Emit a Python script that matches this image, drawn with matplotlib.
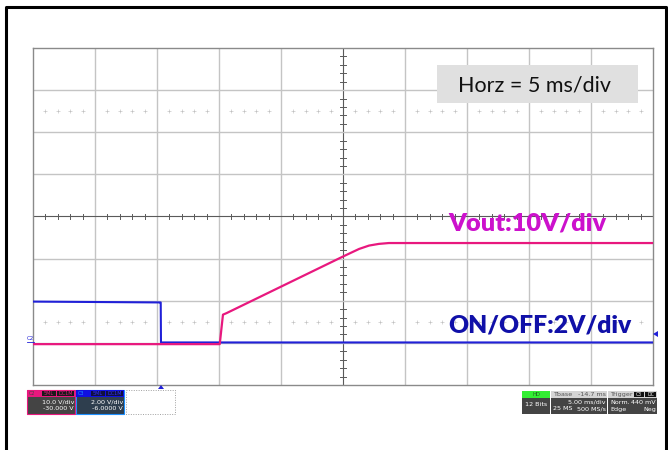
import matplotlib
matplotlib.use("Agg")
import matplotlib.pyplot as plt
from matplotlib.patches import Rectangle, Polygon
import numpy as np

# scope settings
time_per_div = 5.0          # ms/div
t_left = -10.3              # ms at left edge of screen (Tbase -14.7 ms)
vout_scale, vout_offset = 10.0, -30.0     # V/div, V
onoff_scale, onoff_offset = 2.0, -6.0     # V/div, V

# Vout trace (time in ms, volts)
vout_t = [-10.3, 4.76, 5.02, 5.30, 14.7, 16.0, 16.8, 17.6, 18.4, 39.7]
vout_v = [-0.3, -0.3, 6.7, 7.05, 20.5, 22.3, 23.1, 23.5, 23.7, 23.7]

# ON/OFF trace
onoff_t = [-10.3, -0.05, 0.0, 0.02, 39.7]
onoff_v = [1.96, 1.92, 1.92, 0.02, 0.02]

W, H = 668, 450
fig = plt.figure(figsize=(W / 100, H / 100), dpi=100)

# pixel helper for decorations
def px(x0, y0, x1, y1):
    return [x0 / W, 1 - y1 / H, (x1 - x0) / W, (y1 - y0) / H]

# background overlay (frame)
bg = fig.add_axes([0, 0, 1, 1], zorder=0)
bg.set_xlim(0, W)
bg.set_ylim(H, 0)
bg.axis("off")
bg.plot([6, 6, 666, 666], [452, 7, 7, 452], color="black", lw=2.2, solid_capstyle="butt")

# scope screen
ax = fig.add_axes(px(33, 48, 653, 385), zorder=1)
ax.set_xlim(t_left, t_left + 10 * time_per_div)
ax.set_ylim(-4, 4)
ax.set_xticks([])
ax.set_yticks([])
for s in ax.spines.values():
    s.set_color("#8a8a8a")
    s.set_linewidth(1.0)

grid_c = "#c4c4c4"
for i in range(1, 10):
    x = t_left + i * time_per_div
    ax.axvline(x, color="#5a5a5a" if i == 5 else grid_c, lw=0.8 if i == 5 else 1.0, zorder=1)
for j in range(-3, 4):
    ax.axhline(j, color="#5a5a5a" if j == 0 else grid_c, lw=0.8 if j == 0 else 1.0, zorder=1)

# minor ticks on center lines
t_center = t_left + 5 * time_per_div
for k in range(1, 50):
    if k % 5:
        x = t_left + k * time_per_div / 5
        ax.plot([x, x], [-0.06, 0.06], color="#5a5a5a", lw=0.7, zorder=1)
for k in range(-20, 20):
    if k % 5:
        y = k / 5
        ax.plot([t_center - 0.22, t_center + 0.22], [y, y], color="#5a5a5a", lw=0.7, zorder=1)

# dotted cursor rows
dots = [t_left + k * time_per_div / 5 for k in range(1, 50) if k % 5]
for yy in (2.5, -2.5):
    ax.plot(dots, [yy] * len(dots), ls="none", marker="+", ms=2.2, mew=0.45, color="#c0c0c0", zorder=1)

# traces
vout_div = (np.array(vout_v) + vout_offset) / vout_scale
onoff_div = (np.array(onoff_v) + onoff_offset) / onoff_scale
ax.plot(onoff_t, onoff_div, color="#2020d8", lw=1.5, zorder=3)
ax.plot(vout_t, vout_div, color="#e8187e", lw=1.6, zorder=4)

# overlay for annotations / info boxes
ov = fig.add_axes([0, 0, 1, 1], zorder=5)
ov.set_xlim(0, W)
ov.set_ylim(H, 0)
ov.axis("off")
ov.patch.set_alpha(0)

ov.add_patch(Rectangle((437, 65), 201, 38, fc="#e0e0e0", ec="none"))
ov.text(458, 85, "Horz = 5 ms/div", fontsize=15.5, family="Lato", va="center", ha="left", color="#111111")
ov.text(527, 223, "Vout:10V/div", fontsize=18.3, family="Lato", weight="heavy", va="center", ha="center", color="#cc11cc")
ov.text(540, 325, "ON/OFF:2V/div", fontsize=17.7, family="Lato", weight="heavy", va="center", ha="center", color="#1010a8")

# channel marker and trigger markers
ov.text(27, 341, "C2", fontsize=4, color="#2020d8", va="bottom", ha="left")
ov.plot([27, 34], [342, 342], color="#2020d8", lw=0.6)
ov.add_patch(Polygon([[158, 389], [164, 389], [161, 385]], closed=True, fc="#2020d8", ec="none"))
ov.add_patch(Polygon([[653, 334], [658, 331], [658, 337]], closed=True, fc="#2020d8", ec="none"))

fs = 4.6
# left channel boxes
ov.add_patch(Rectangle((27, 390), 48, 24, fc="#444444", ec="#e8187e", lw=0.8))
ov.add_patch(Rectangle((27, 390), 48, 7, fc="#e8187e", ec="none"))
ov.add_patch(Rectangle((42, 390.8), 14, 5.5, fc="#1a1a1a", ec="none"))
ov.add_patch(Rectangle((57, 390.8), 17, 5.5, fc="#1a1a1a", ec="none"))
ov.text(29, 393.5, "C2", fontsize=3.5, color="#444444", va="center")
ov.text(49, 393.5, "5ML", fontsize=3.5, color="#e8187e", va="center", ha="center")
ov.text(65.5, 393.5, "DC1M", fontsize=3.5, color="#e8187e", va="center", ha="center")
ov.text(74, 402, "10.0 V/div", fontsize=fs, color="white", va="center", ha="right")
ov.text(74, 409, "-30.000 V", fontsize=fs, color="white", va="center", ha="right")

ov.add_patch(Rectangle((76, 390), 48, 24, fc="#2e3e4e", ec="#1e90ff", lw=0.8))
ov.add_patch(Rectangle((76, 390), 48, 7, fc="#1010e0", ec="none"))
ov.add_patch(Rectangle((91, 390.8), 14, 5.5, fc="#101040", ec="none"))
ov.add_patch(Rectangle((106, 390.8), 17, 5.5, fc="#101040", ec="none"))
ov.text(78, 393.5, "C3", fontsize=3.5, color="#1e90ff", va="center")
ov.text(98, 393.5, "5ML", fontsize=3.5, color="#3030ff", va="center", ha="center")
ov.text(114.5, 393.5, "DC1M", fontsize=3.5, color="#3030ff", va="center", ha="center")
ov.text(123, 402, "2.00 V/div", fontsize=fs, color="white", va="center", ha="right")
ov.text(123, 409, "-6.0000 V", fontsize=fs, color="white", va="center", ha="right")

ov.add_patch(Rectangle((126, 390), 49, 24, fc="none", ec="#a0a0a0", lw=0.7, ls=(0, (1, 1.5))))

# right status boxes
ov.add_patch(Rectangle((522, 391), 28, 23, fc="#444444", ec="none"))
ov.add_patch(Rectangle((522, 391), 28, 6.5, fc="#33ee33", ec="none"))
ov.text(536, 394, "HD", fontsize=3.8, color="#226622", va="center", ha="center")
ov.text(536, 405, "12 Bits", fontsize=fs, color="white", va="center", ha="center")

ov.add_patch(Rectangle((551, 391), 56, 23, fc="#444444", ec="none"))
ov.add_patch(Rectangle((551, 391), 56, 6.5, fc="#d4d4d4", ec="none"))
ov.text(553, 394.2, "Tbase", fontsize=fs, color="#555555", va="center")
ov.text(606, 394.2, "-14.7 ms", fontsize=fs, color="#555555", va="center", ha="right")
ov.text(606, 402, "5.00 ms/div", fontsize=fs, color="white", va="center", ha="right")
ov.text(553, 409, "25 MS", fontsize=fs, color="white", va="center")
ov.text(606, 409, "500 MS/s", fontsize=fs, color="white", va="center", ha="right")

ov.add_patch(Rectangle((608, 391), 49, 23, fc="#444444", ec="none"))
ov.add_patch(Rectangle((608, 391), 49, 6.5, fc="#d4d4d4", ec="none"))
ov.add_patch(Rectangle((634, 391.6), 10, 5.2, fc="#111111", ec="none"))
ov.add_patch(Rectangle((645, 391.6), 11, 5.2, fc="#111111", ec="none"))
ov.text(610, 394.2, "Trigger", fontsize=fs, color="#555555", va="center")
ov.text(639, 394.2, "C3", fontsize=3.3, color="white", va="center", ha="center")
ov.text(650.5, 394.2, "DC", fontsize=3.3, color="white", va="center", ha="center")
ov.text(610, 402, "Norm.", fontsize=fs, color="white", va="center")
ov.text(656, 402, "440 mV", fontsize=fs, color="white", va="center", ha="right")
ov.text(610, 409, "Edge", fontsize=fs, color="white", va="center")
ov.text(656, 409, "Neg", fontsize=fs, color="white", va="center", ha="right")

fig.savefig("out.png", dpi=100)
